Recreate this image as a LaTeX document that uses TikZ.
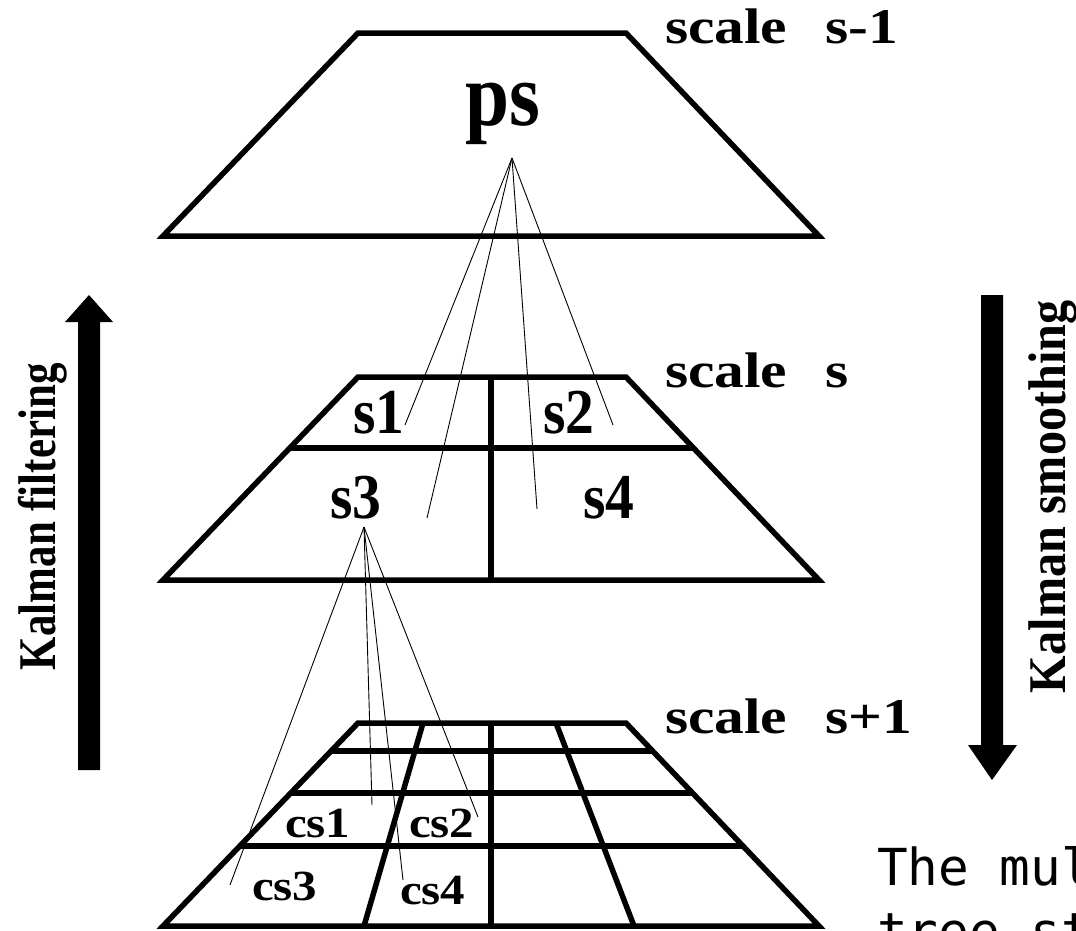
\documentclass[tikz,border=0pt]{standalone}
\usepackage{graphicx}
\usepackage{fontspec}
\setmainfont{Liberation Serif}
\newfontfamily\monofont{DejaVu Sans Mono}
\usetikzlibrary{calc}
\newcommand{\mylab}[3]{\fontsize{#1}{#1}\selectfont\bfseries\scalebox{#2}[1]{#3}}
\begin{document}
\begin{tikzpicture}[x=1pt,y=-1pt,
  edge/.style={line width=5.5pt, line join=miter},
  link/.style={line width=0.9pt},
  lbl/.style={inner sep=0pt, outer sep=0pt, anchor=base west},
  mono/.style={inner sep=0pt, outer sep=0pt, anchor=base west, font=\monofont\fontsize{51}{51}\selectfont}]
\useasboundingbox (0,0) rectangle (1076,930);
\fill[white] (0,0) rectangle (1076,930);
\clip (0,0) rectangle (1076,930);

% ---------- trapezoid corners ----------
\foreach \n/\t in {A/33,B/377,C/723}{
  \coordinate (\n-tl) at (358,\t);
  \coordinate (\n-tr) at (626,\t+0);
  \coordinate (\n-br) at (819,\t+203);
  \coordinate (\n-bl) at (163,\t+203);
}

% ---------- scale s-1 ----------
\draw[edge] (A-tl) -- (A-tr) -- (A-br) -- (A-bl) -- cycle;

% ---------- scale s ----------
\draw[edge] (B-tl) -- (B-tr) -- (B-br) -- (B-bl) -- cycle;
\draw[edge] ($(B-tl)!0.35!(B-bl)$) -- ($(B-tr)!0.35!(B-br)$);
\draw[edge] (491,377) -- (491,580);

% ---------- scale s+1 ----------
\draw[edge] (C-tl) -- (C-tr) -- (C-br) -- (C-bl) -- cycle;
\foreach \r in {0.138,0.345,0.606}{
  \draw[edge] ($(C-tl)!\r!(C-bl)$) -- ($(C-tr)!\r!(C-br)$);
}
\draw[edge] (423,723) -- (364,926);
\draw[edge] (491,723) -- (491,926);
\draw[edge] (556,723) -- (634,926);

% ---------- labels ----------
\node[lbl] (ps) at (465,125) {\mylab{90}{0.88}{ps}};
\node[lbl] (sA) at (665,43)  {\mylab{50}{1.19}{scale\hspace{32pt}s-1}};
\node[lbl] (sB) at (665,387) {\mylab{50}{1.19}{scale\hspace{32pt}s}};
\node[lbl] (sC) at (665,733) {\mylab{50}{1.19}{scale\hspace{32pt}s+1}};

\node[lbl] (s1) at (353,433) {\mylab{64}{0.9}{s1}};
\node[lbl] (s2) at (543,433) {\mylab{64}{0.9}{s2}};
\node[lbl] (s3) at (330,518) {\mylab{64}{0.9}{s3}};
\node[lbl] (s4) at (583,518) {\mylab{64}{0.9}{s4}};

\node[lbl] (cs1) at (285,837) {\mylab{43}{1.14}{cs1}};
\node[lbl] (cs2) at (409,837) {\mylab{43}{1.14}{cs2}};
\node[lbl] (cs3) at (252,900) {\mylab{43}{1.14}{cs3}};
\node[lbl] (cs4) at (400,904) {\mylab{43}{1.14}{cs4}};

% ---------- links ----------
\coordinate (pa) at (512,158);
\coordinate (e1) at (405,425);
\coordinate (e2) at (427,518);
\coordinate (e3) at (537,509);
\coordinate (e4) at (613,425);
\foreach \e in {e1,e2,e3,e4} \draw[link] (pa) -- (\e);

\coordinate (qa) at (364,527);
\coordinate (f1) at (230,885);
\coordinate (f2) at (372,805);
\coordinate (f3) at (403,880);
\coordinate (f4) at (478,817);
\foreach \f in {f1,f2,f3,f4} \draw[link] (qa) -- (\f);

% ---------- arrows ----------
\fill (78,770) -- (78,322) -- (65,322) -- (89,295) -- (113,322) -- (100,322) -- (100,770) -- cycle;
\fill (981,295) -- (1003,295) -- (1003,745) -- (1017,745) -- (992,780) -- (968,745) -- (981,745) -- cycle;
\node[lbl, rotate=90] (kf) at (55,670)  {\mylab{53}{0.81}{Kalman filtering}};
\node[lbl, rotate=90] (ks) at (1065,693) {\mylab{53}{0.91}{Kalman smoothing}};

% ---------- caption (cut by the frame) ----------
\node[mono] (cap1) at (877,885) {The mul};
\node[mono] (cap2) at (877,949) {tree st};
\end{tikzpicture}
\end{document}
